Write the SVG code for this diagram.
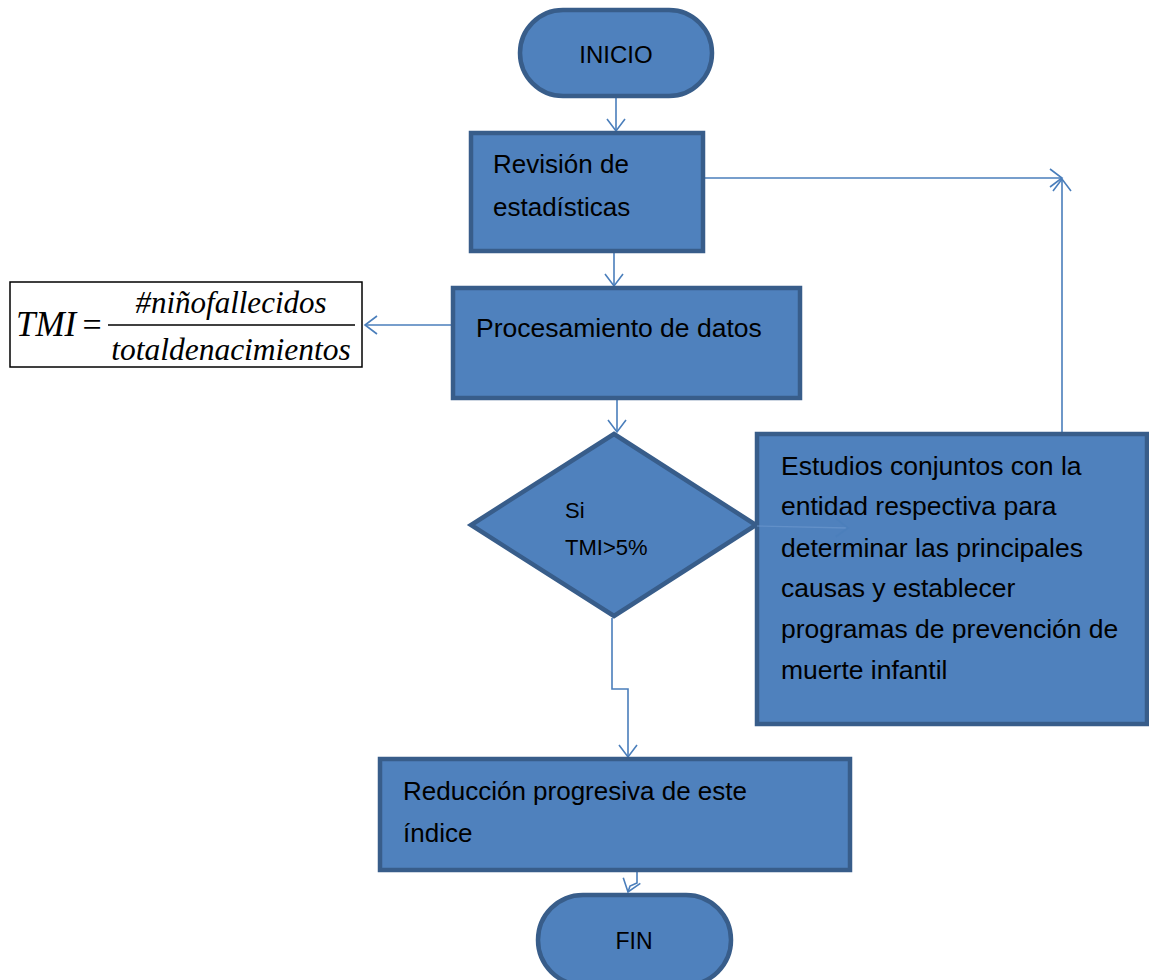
<svg xmlns="http://www.w3.org/2000/svg" width="1149" height="980" viewBox="0 0 1149 980">
<style>
.node{fill:#4F81BD;stroke:#385D8A;stroke-width:4.5}
.t{font-family:"Liberation Sans",Arial,sans-serif;font-size:26px;fill:#000}
.c{fill:none;stroke:#4A7EBB;stroke-width:1.6}
.m{font-family:"Liberation Serif","Times New Roman",serif;font-style:italic;fill:#000}
</style>
<defs>
<marker id="arr" viewBox="-14 -11 16 22" refX="0" refY="0" markerWidth="16" markerHeight="22" markerUnits="userSpaceOnUse" orient="auto">
<path d="M-12,-9 L0,0 L-12,9" fill="none" stroke="#4A7EBB" stroke-width="1.6"/>
</marker>
</defs>
<rect width="1149" height="980" fill="#fff"/>
<g id="connectors">
<path class="c" d="M616,97 L616,131" marker-end="url(#arr)"/>
<path class="c" d="M614,253 L614,286" marker-end="url(#arr)"/>
<path class="c" d="M452,325 L365,325" marker-end="url(#arr)"/>
<path class="c" d="M617,399 L617,432" marker-end="url(#arr)"/>
<path class="c" d="M704,178 L1062,178" marker-end="url(#arr)"/>
<path class="c" d="M1062,433 L1062,179" marker-end="url(#arr)"/>
<path class="c" d="M612,618 L612,689 L628,689 L628,757" marker-end="url(#arr)"/>
<path class="c" d="M637,871 L637,883 L630,886 L628,892" marker-end="url(#arr)"/>
</g>
<g id="inicio">
<rect class="node" x="520" y="10" width="192" height="86" rx="43"/>
<text class="t" x="616" y="63" text-anchor="middle" style="font-size:24px">INICIO</text>
</g>
<g id="revision">
<rect class="node" x="471" y="133" width="232" height="118"/>
<text class="t" x="493" y="173">Revisión de</text>
<text class="t" x="493" y="216">estadísticas</text>
</g>
<g id="formula">
<rect x="10" y="282" width="352" height="85" fill="#fff" stroke="#000" stroke-width="1.5"/>
<text class="m" x="16" y="336" style="font-size:35px">TMI</text>
<text x="92" y="336" text-anchor="middle" style="font-family:'Liberation Serif',serif;font-size:34px">=</text>
<line x1="108" y1="325" x2="355" y2="325" stroke="#000" stroke-width="1.5"/>
<text class="m" x="231" y="313" text-anchor="middle" style="font-size:31px">#niñofallecidos</text>
<text class="m" x="231" y="360" text-anchor="middle" style="font-size:31.5px">totaldenacimientos</text>
</g>
<g id="procesamiento">
<rect class="node" x="453" y="288" width="347" height="110"/>
<text class="t" x="476" y="337" style="font-size:26.5px">Procesamiento de datos</text>
</g>
<g id="decision">
<polygon class="node" points="614,434 756,525 614,616 471,525"/>
<text class="t" x="565" y="518" style="font-size:22px">Si</text>
<text class="t" x="565" y="555" style="font-size:22px">TMI&gt;5%</text>
</g>
<g id="estudios">
<rect class="node" x="757" y="434" width="390" height="290"/>
<path d="M757,526 L848,528" fill="none" stroke="#6F9AD0" stroke-width="1.4" opacity="0.6" marker-end="url(#arr)"/>
<text class="t" x="781" y="475" style="font-size:26.5px">Estudios conjuntos con la</text>
<text class="t" x="781" y="515" style="font-size:26.5px">entidad respectiva para</text>
<text class="t" x="781" y="557" style="font-size:26.5px">determinar las principales</text>
<text class="t" x="781" y="597" style="font-size:26.5px">causas y establecer</text>
<text class="t" x="781" y="638" style="font-size:26.5px">programas de prevención de</text>
<text class="t" x="781" y="679" style="font-size:26.5px">muerte infantil</text>
</g>
<g id="reduccion">
<rect class="node" x="380" y="759" width="470" height="111"/>
<text class="t" x="403" y="800">Reducción progresiva de este</text>
<text class="t" x="403" y="842">índice</text>
</g>
<g id="fin">
<rect class="node" x="538" y="895" width="193" height="90" rx="45"/>
<text class="t" x="634" y="949" text-anchor="middle" style="font-size:23px">FIN</text>
</g>
</svg>
